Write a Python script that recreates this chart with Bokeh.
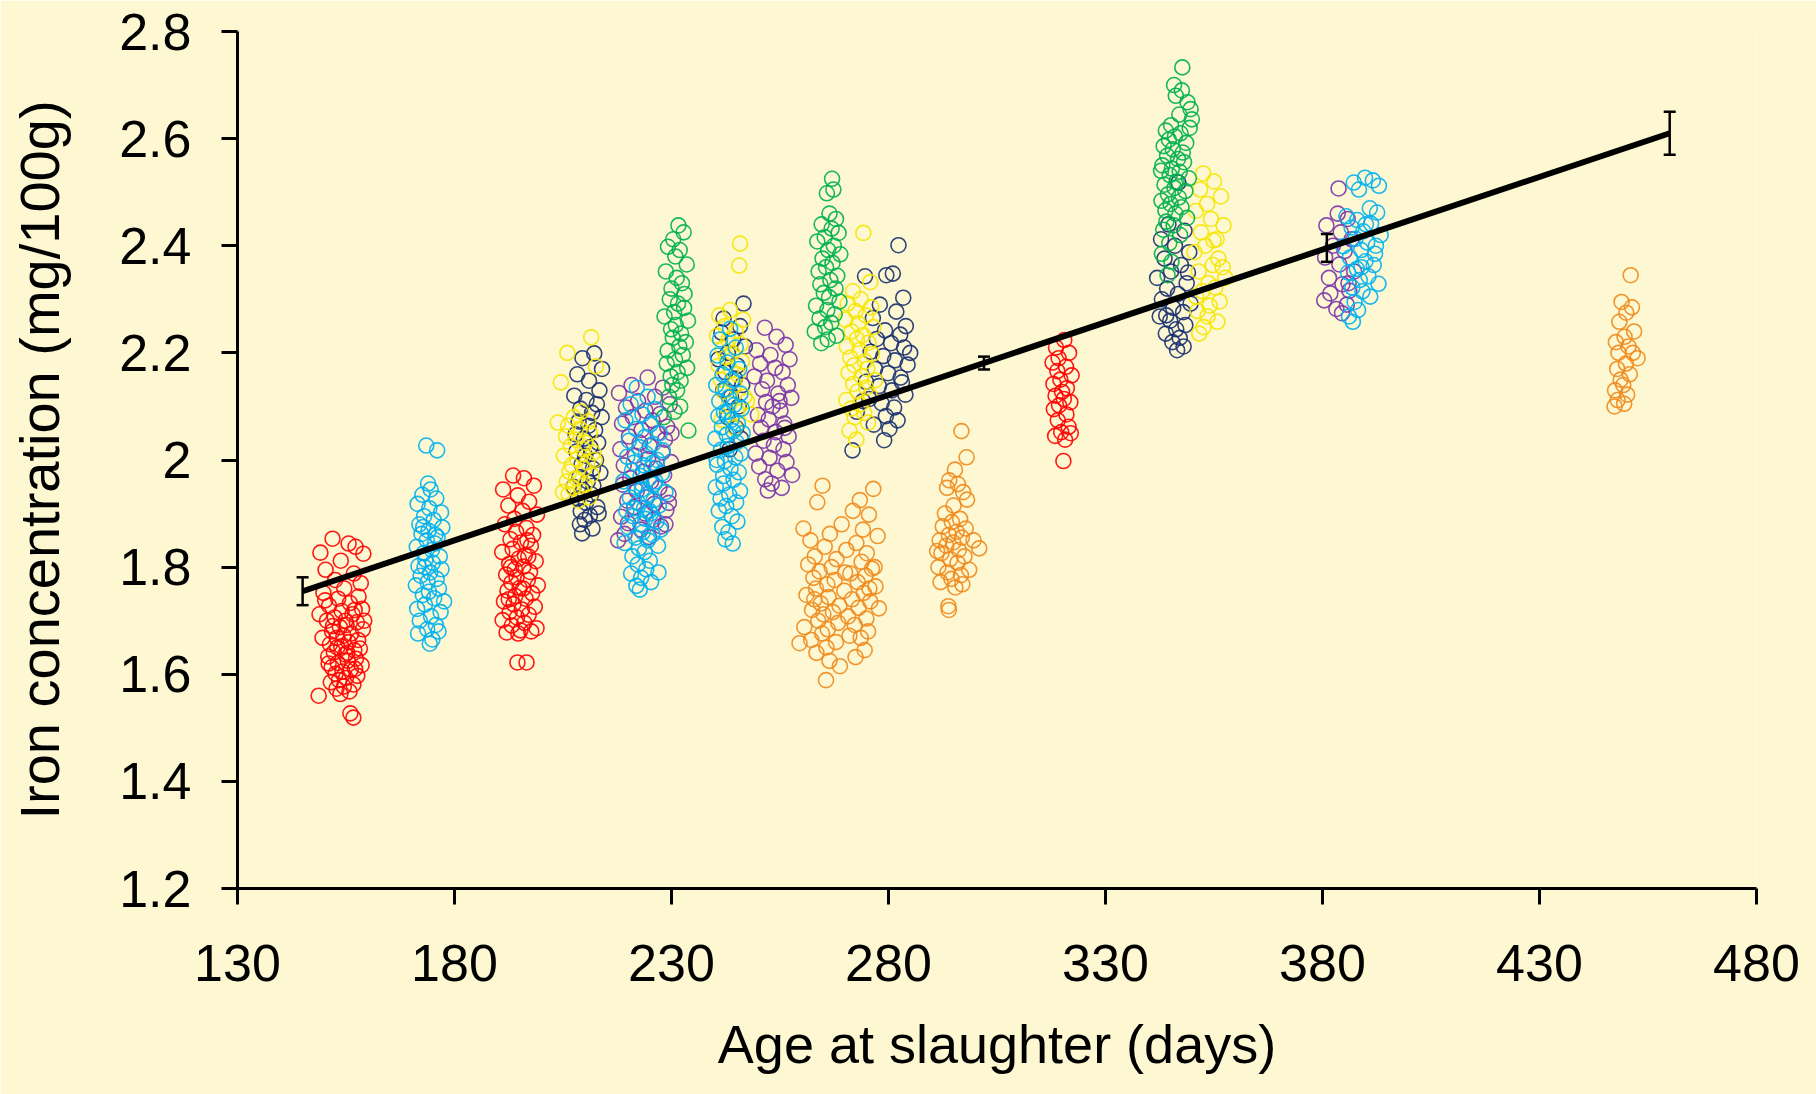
from bokeh.plotting import figure
from bokeh.models import Range1d, FixedTicker
from bokeh.embed import file_html
from bokeh.resources import INLINE

# ---------------- data ----------------
X_TICKS = [130, 180, 230, 280, 330, 380, 430, 480]
Y_TICKS = [1.2, 1.4, 1.6, 1.8, 2.0, 2.2, 2.4, 2.6, 2.8]
Y_TICK_LABELS = ["1.2", "1.4", "1.6", "1.8", "2", "2.2", "2.4", "2.6", "2.8"]
X_TITLE = "Age at slaughter (days)"
Y_TITLE = "Iron concentration (mg/100g)"

# regression line and its error bars (mean +/- se)
LINE_X = [145, 460]
LINE_Y = [1.755, 2.610]
ERR_X = [145, 302, 381, 460]
ERR_MEAN = [1.755, 2.181, 2.396, 2.610]
ERR_SE = [0.026, 0.012, 0.026, 0.040]

# (age in days, iron mg/100g)
RED_PTS = [
    (151.9,1.853),(149.1,1.827),(155.6,1.844),(159.0,1.825),(157.2,1.838),(153.8,1.812),(150.3,1.795),(156.8,1.788),
    (152.5,1.776),(158.4,1.770),(154.6,1.760),(149.8,1.752),(157.9,1.745),(153.2,1.741),(155.9,1.733),(151.1,1.728),
    (158.7,1.722),(154.0,1.718),(156.5,1.712),(152.4,1.706),(150.6,1.700),(157.5,1.697),(155.1,1.692),(153.6,1.688),
    (158.9,1.684),(151.8,1.680),(156.2,1.676),(154.4,1.672),(152.9,1.668),(157.8,1.664),(155.6,1.660),(151.3,1.656),
    (153.9,1.652),(158.2,1.648),(156.9,1.645),(152.2,1.641),(154.8,1.637),(150.9,1.633),(157.3,1.629),(155.4,1.625),
    (153.1,1.621),(158.6,1.617),(151.7,1.613),(156.1,1.609),(154.2,1.605),(152.6,1.601),(157.6,1.597),(155.0,1.593),
    (153.4,1.589),(151.5,1.585),(156.7,1.581),(154.5,1.577),(152.8,1.573),(155.8,1.568),(148.7,1.560),(153.7,1.563),
    (156.0,1.527),(156.7,1.519),(150.2,1.738),(152.0,1.690),(154.9,1.700),(157.0,1.720),(153.0,1.650),(155.3,1.640),
    (151.0,1.620),(157.1,1.610),(149.6,1.668),(159.2,1.700),(148.9,1.712),
    (193.5,1.971),(196.0,1.966),(191.2,1.945),(198.3,1.952),(194.6,1.934),(197.2,1.922),(192.4,1.915),(195.7,1.905),
    (199.0,1.898),(193.8,1.890),(191.6,1.880),(196.6,1.873),(194.2,1.866),(198.1,1.860),(192.9,1.852),(195.3,1.846),
    (197.6,1.840),(193.4,1.834),(191.0,1.828),(196.2,1.822),(194.8,1.816),(198.7,1.811),(192.6,1.806),(195.9,1.801),
    (193.9,1.796),(197.4,1.791),(191.9,1.786),(194.3,1.781),(196.9,1.776),(193.1,1.771),(199.2,1.766),(195.0,1.761),
    (192.2,1.756),(197.9,1.751),(194.0,1.746),(196.4,1.741),(191.4,1.736),(193.6,1.731),(198.5,1.726),(195.5,1.721),
    (192.7,1.716),(197.1,1.711),(194.4,1.706),(191.1,1.701),(196.1,1.696),(193.2,1.691),(198.9,1.686),(195.2,1.682),
    (192.0,1.678),(194.7,1.676),(197.7,1.680),(194.5,1.622),(196.6,1.622),(193.0,1.800),(195.8,1.760),(197.0,1.820),
    (192.5,1.740),(196.8,1.850),
    (320.5,2.224),(318.6,2.210),(321.6,2.200),(319.2,2.190),(317.8,2.182),(320.9,2.174),(318.9,2.166),(322.2,2.158),
    (319.6,2.150),(318.0,2.142),(321.1,2.134),(320.0,2.127),(318.5,2.120),(320.4,2.114),(321.9,2.108),(319.3,2.102),
    (318.1,2.095),(321.0,2.085),(319.0,2.074),(321.5,2.062),(319.8,2.052),(318.4,2.045),(320.7,2.038),(322.0,2.050),
    (320.3,1.998),
]

BLUE_PTS = [
    (173.5,2.027),(176.0,2.018),(173.9,1.956),(174.5,1.945),(172.6,1.935),(175.8,1.928),(171.5,1.918),(174.2,1.910),
    (176.9,1.902),(173.0,1.895),(175.2,1.888),(171.9,1.880),(177.2,1.874),(174.0,1.868),(172.4,1.862),(176.1,1.856),
    (173.6,1.850),(175.5,1.844),(171.3,1.838),(174.8,1.832),(172.9,1.826),(176.6,1.820),(173.3,1.814),(175.0,1.808),
    (171.7,1.802),(177.0,1.796),(174.4,1.790),(172.2,1.784),(175.9,1.778),(173.8,1.772),(171.1,1.766),(176.4,1.760),
    (174.1,1.754),(172.7,1.748),(175.3,1.742),(177.6,1.736),(173.2,1.730),(171.4,1.722),(176.8,1.716),(174.6,1.708),
    (172.0,1.700),(175.7,1.692),(173.7,1.684),(171.6,1.676),(176.3,1.680),(174.9,1.665),(174.3,1.657),(172.8,1.875),
    (175.6,1.860),(173.1,1.800),
    (222.0,2.135),(224.5,2.118),(220.6,2.104),(226.2,2.095),(223.3,2.085),(219.4,2.074),(225.1,2.066),(221.8,2.058),
    (227.3,2.050),(223.9,2.043),(220.2,2.036),(225.8,2.030),(222.6,2.024),(228.0,2.018),(224.1,2.012),(219.8,2.006),
    (226.7,2.000),(221.3,1.995),(223.6,1.990),(225.4,1.985),(220.9,1.980),(227.8,1.975),(222.9,1.970),(224.8,1.965),
    (218.9,1.960),(226.0,1.955),(221.5,1.950),(223.2,1.945),(228.6,1.940),(224.4,1.935),(220.4,1.930),(225.9,1.925),
    (222.3,1.920),(227.1,1.915),(223.7,1.910),(219.6,1.905),(225.2,1.900),(221.1,1.895),(224.0,1.890),(226.5,1.885),
    (222.8,1.880),(220.0,1.875),(227.5,1.870),(223.4,1.865),(225.6,1.860),(221.7,1.855),(224.6,1.850),(219.2,1.845),
    (226.9,1.840),(222.5,1.835),(223.8,1.828),(221.0,1.820),(225.0,1.812),(222.2,1.805),(224.2,1.796),(220.7,1.788),
    (223.0,1.780),(225.3,1.772),(221.9,1.765),(222.7,1.758),(227.0,1.790),(226.3,1.960),(224.9,1.905),(221.4,1.910),
    (223.1,1.955),(225.7,1.995),
    (243.5,2.245),(241.2,2.225),(244.8,2.210),(240.6,2.195),(242.9,2.182),(245.6,2.170),(241.8,2.160),(244.0,2.150),
    (240.3,2.140),(242.5,2.132),(245.9,2.124),(243.2,2.117),(241.0,2.110),(244.5,2.103),(246.2,2.096),(242.1,2.089),
    (240.8,2.082),(243.8,2.075),(245.3,2.068),(241.6,2.061),(244.2,2.054),(242.7,2.047),(240.1,2.040),(245.0,2.033),
    (243.0,2.026),(241.4,2.019),(246.0,2.012),(244.7,2.005),(242.3,1.998),(240.5,1.991),(243.6,1.984),(245.5,1.977),
    (241.9,1.970),(244.3,1.963),(242.0,1.956),(240.2,1.949),(245.8,1.942),(243.3,1.935),(241.3,1.928),(244.9,1.921),
    (242.6,1.914),(240.9,1.905),(243.9,1.895),(245.2,1.885),(241.7,1.875),(243.1,1.865),(242.4,1.852),(244.1,1.844),
    (240.4,2.000),(246.4,2.050),(242.8,2.090),
    (389.8,2.527),(391.6,2.522),(387.2,2.518),(393.0,2.512),(388.4,2.505),(390.9,2.470),(392.6,2.462),(385.5,2.455),
    (388.0,2.448),(391.2,2.441),(386.7,2.434),(389.4,2.427),(393.4,2.420),(387.6,2.413),(390.3,2.406),(384.8,2.399),
    (388.9,2.392),(392.1,2.385),(386.3,2.378),(389.9,2.371),(391.8,2.364),(387.9,2.357),(385.9,2.350),(390.6,2.343),
    (388.6,2.336),(392.9,2.329),(386.9,2.322),(389.2,2.315),(391.0,2.305),(387.4,2.295),(388.2,2.280),(386.1,2.268),
    (387.0,2.258),(390.0,2.440),(392.3,2.400),(389.0,2.360),
]

NAVY_PTS = [
    (212.2,2.199),(209.5,2.190),(214.0,2.170),(208.3,2.160),(211.0,2.148),(213.4,2.130),(207.6,2.120),(210.4,2.112),
    (212.8,2.104),(209.0,2.096),(211.7,2.088),(213.9,2.080),(208.6,2.072),(210.9,2.064),(212.4,2.056),(207.9,2.048),
    (209.8,2.040),(213.1,2.032),(211.3,2.024),(208.1,2.016),(210.1,2.008),(212.6,2.000),(209.3,1.992),(211.9,1.984),
    (213.6,1.976),(208.8,1.968),(210.7,1.960),(212.0,1.952),(209.6,1.944),(211.5,1.936),(208.4,1.928),(210.3,1.920),
    (212.9,1.912),(209.1,1.904),(211.2,1.896),(210.0,1.888),(208.9,1.880),(211.8,1.872),(209.4,1.863),(213.2,1.900),
    (207.4,1.950),
    (246.6,2.292),(242.0,2.264),(245.8,2.250),(241.5,2.238),(244.2,2.225),(246.9,2.212),(243.0,2.200),(240.8,2.188),
    (245.2,2.176),(242.4,2.164),(244.6,2.152),(246.3,2.140),(241.9,2.130),(243.7,2.118),(245.5,2.100),(242.9,2.080),
    (244.9,2.060),(246.0,2.040),(243.4,2.020),
    (282.3,2.401),(281.0,2.348),(279.5,2.345),(274.6,2.343),(283.4,2.303),(281.8,2.277),(278.0,2.290),(276.4,2.265),
    (284.0,2.250),(279.2,2.242),(282.7,2.234),(277.3,2.226),(280.6,2.218),(283.6,2.210),(275.9,2.202),(278.8,2.194),
    (281.5,2.186),(284.4,2.178),(276.9,2.170),(279.9,2.162),(282.8,2.154),(274.8,2.146),(277.8,2.138),(280.8,2.130),
    (283.9,2.122),(275.6,2.114),(278.4,2.106),(281.3,2.098),(272.7,2.090),(279.4,2.082),(282.1,2.074),(276.6,2.066),
    (280.2,2.058),(279.0,2.037),(271.7,2.018),(274.1,2.110),(283.1,2.145),(285.0,2.200),
    (346.8,2.518),(344.5,2.440),(348.2,2.428),(342.8,2.412),(346.0,2.400),(349.3,2.388),(343.6,2.376),(347.4,2.364),
    (345.1,2.352),(341.9,2.340),(348.7,2.330),(344.2,2.320),(346.7,2.310),(343.0,2.300),(349.6,2.292),(345.6,2.284),
    (347.9,2.276),(342.5,2.268),(344.9,2.260),(348.4,2.252),(346.3,2.244),(343.9,2.236),(347.1,2.228),(345.4,2.220),
    (348.0,2.212),(346.5,2.205),(344.0,2.270),(349.0,2.350),
]

YELLOW_PTS = [
    (211.5,2.229),(204.5,2.145),(206.0,2.200),(212.6,2.175),(203.8,2.070),(209.2,2.090),(207.5,2.080),(210.8,2.072),
    (206.2,2.064),(208.9,2.058),(211.2,2.050),(205.7,2.044),(207.9,2.038),(210.2,2.032),(206.8,2.026),(209.6,2.020),
    (212.0,2.014),(205.2,2.008),(208.3,2.002),(210.6,1.996),(207.0,1.990),(209.9,1.984),(206.5,1.978),(211.6,1.972),
    (208.0,1.966),(205.9,1.960),(210.0,1.954),(207.3,1.948),(209.2,1.942),(206.3,1.936),(211.0,1.930),(208.6,1.924),
    (205.0,1.940),(212.3,2.000),
    (245.8,2.404),(245.6,2.363),(243.5,2.280),(241.0,2.270),(246.5,2.262),(242.3,2.250),(244.8,2.240),(240.5,2.232),
    (243.1,2.224),(245.9,2.216),(241.8,2.208),(244.0,2.200),(242.6,2.192),(246.2,2.184),(240.9,2.176),(243.7,2.168),
    (245.2,2.160),(241.4,2.150),(244.4,2.140),(242.0,2.128),(246.8,2.118),(243.3,2.105),(245.0,2.090),(241.6,2.075),
    (244.6,2.060),(247.4,2.110),(248.4,2.085),
    (274.2,2.424),(275.8,2.332),(271.8,2.315),(273.6,2.300),(270.6,2.292),(276.0,2.285),(272.4,2.278),(274.8,2.270),
    (270.1,2.262),(273.0,2.255),(276.5,2.248),(271.5,2.240),(274.1,2.233),(272.7,2.226),(275.4,2.219),(270.4,2.212),
    (273.3,2.205),(276.2,2.198),(271.2,2.191),(274.6,2.184),(272.1,2.177),(275.1,2.170),(270.8,2.163),(273.8,2.156),
    (276.9,2.149),(271.9,2.142),(274.9,2.135),(272.9,2.128),(275.7,2.120),(270.3,2.112),(273.5,2.104),(271.4,2.096),
    (274.4,2.088),(272.2,2.080),(275.3,2.070),(271.0,2.055),(272.6,2.038),
    (352.5,2.535),(355.0,2.520),(351.8,2.505),(356.6,2.492),(353.4,2.478),(350.8,2.465),(354.3,2.450),(357.2,2.438),
    (352.0,2.425),(355.6,2.412),(353.0,2.400),(350.5,2.388),(356.0,2.376),(354.7,2.364),(351.5,2.352),(357.6,2.340),
    (353.7,2.330),(355.3,2.322),(352.3,2.315),(350.9,2.305),(356.3,2.296),(354.0,2.288),(351.2,2.278),(353.5,2.268),
    (355.8,2.258),(352.6,2.248),(351.6,2.236),(357.0,2.360),(354.9,2.410),
]

PURPLE_PTS = [
    (224.5,2.154),(220.8,2.140),(228.0,2.135),(217.9,2.125),(226.2,2.118),(222.3,2.110),(229.6,2.104),(219.5,2.098),
    (224.0,2.092),(227.4,2.086),(221.1,2.080),(225.6,2.074),(218.6,2.068),(229.0,2.062),(223.1,2.056),(226.8,2.050),
    (220.2,2.044),(228.5,2.038),(222.7,2.032),(225.0,2.026),(218.2,2.020),(227.9,2.014),(221.6,2.008),(224.6,2.002),
    (229.9,1.996),(219.0,1.990),(226.4,1.984),(223.5,1.978),(228.3,1.972),(220.5,1.966),(225.3,1.960),(218.8,1.954),
    (227.2,1.948),(222.0,1.942),(229.3,1.936),(224.3,1.930),(219.8,1.924),(226.0,1.918),(221.4,1.912),(228.8,1.906),
    (223.9,1.900),(218.4,1.894),(225.8,1.888),(220.0,1.882),(227.6,1.876),(222.9,1.870),(219.2,1.862),(224.8,1.856),
    (217.7,1.850),(229.4,1.920),(228.6,1.880),(230.0,2.050),
    (251.5,2.247),(254.2,2.230),(256.3,2.215),(249.6,2.205),(252.8,2.196),(257.2,2.188),(250.4,2.180),(253.9,2.172),
    (255.6,2.164),(249.1,2.156),(252.0,2.148),(256.8,2.140),(250.9,2.132),(254.6,2.124),(257.6,2.116),(251.8,2.108),
    (253.3,2.100),(255.1,2.092),(249.9,2.084),(252.4,2.076),(256.0,2.068),(250.6,2.060),(254.0,2.052),(257.0,2.044),
    (251.2,2.036),(253.6,2.028),(255.8,2.020),(249.4,2.012),(252.6,2.004),(256.5,1.996),(250.2,1.988),(254.4,1.980),
    (257.8,1.972),(251.6,1.964),(253.1,1.956),(255.4,1.948),(252.2,1.943),(256.1,2.060),(254.9,2.110),
    (383.7,2.507),(383.5,2.460),(385.8,2.450),(380.9,2.438),(384.2,2.425),(386.7,2.412),(382.4,2.400),(385.1,2.390),
    (380.6,2.378),(383.9,2.365),(387.3,2.352),(381.5,2.340),(384.6,2.328),(386.2,2.316),(381.8,2.311),(380.4,2.298),
    (385.6,2.290),(383.2,2.282),(384.5,2.274),(386.0,2.330),
]

GREEN_PTS = [
    (231.6,2.438),(232.8,2.425),(230.4,2.412),(229.2,2.398),(231.9,2.392),(230.9,2.380),(233.5,2.365),(228.7,2.352),
    (231.2,2.340),(232.4,2.330),(230.0,2.320),(233.0,2.310),(229.6,2.300),(231.5,2.292),(232.9,2.284),(230.6,2.276),
    (228.4,2.268),(233.8,2.260),(231.0,2.252),(229.9,2.244),(232.2,2.236),(230.3,2.228),(233.3,2.220),(231.8,2.212),
    (229.1,2.204),(232.6,2.196),(230.8,2.188),(228.9,2.180),(233.6,2.172),(231.4,2.164),(229.8,2.156),(232.1,2.148),
    (230.2,2.140),(231.3,2.130),(229.4,2.118),(232.0,2.100),(230.7,2.090),(233.9,2.055),(228.2,2.080),
    (267.0,2.525),(267.3,2.505),(265.8,2.498),(266.4,2.460),(267.9,2.450),(264.6,2.440),(266.9,2.432),(268.5,2.424),
    (265.3,2.416),(263.6,2.408),(267.4,2.400),(266.1,2.392),(268.9,2.384),(264.8,2.376),(267.1,2.368),(265.6,2.360),
    (263.9,2.352),(268.2,2.344),(266.6,2.336),(264.3,2.328),(267.8,2.320),(265.1,2.312),(266.3,2.304),(268.7,2.296),
    (263.3,2.288),(265.9,2.280),(267.6,2.272),(264.1,2.264),(266.8,2.256),(265.4,2.248),(263.0,2.240),(268.0,2.232),
    (266.0,2.225),(264.5,2.218),
    (347.7,2.733),(345.8,2.700),(347.6,2.690),(346.2,2.680),(348.9,2.668),(349.6,2.655),(347.0,2.645),(349.9,2.636),
    (345.1,2.625),(343.9,2.615),(347.3,2.610),(346.0,2.604),(344.6,2.598),(348.6,2.592),(343.4,2.586),(345.5,2.580),
    (347.8,2.574),(344.2,2.568),(346.7,2.562),(348.1,2.556),(343.1,2.550),(345.3,2.544),(347.1,2.538),(344.8,2.532),
    (349.2,2.526),(346.4,2.520),(343.6,2.514),(345.9,2.508),(348.4,2.502),(344.4,2.496),(346.9,2.490),(342.9,2.484),
    (345.0,2.478),(347.5,2.472),(343.8,2.466),(346.1,2.460),(348.8,2.452),(344.0,2.445),(345.7,2.438),(343.3,2.430),
    (347.2,2.420),(344.7,2.405),(343.0,2.385),(345.2,2.370),(344.3,2.345),(349.4,2.620),(342.8,2.540),
]

ORANGE_PTS = [
    (264.8,1.952),(276.5,1.946),(273.4,1.925),(263.6,1.921),(271.8,1.905),(275.5,1.898),(260.4,1.872),(269.2,1.880),
    (274.1,1.870),(266.5,1.862),(277.5,1.858),(262.0,1.850),(272.6,1.845),(265.3,1.838),(270.3,1.832),(275.0,1.826),
    (263.0,1.820),(268.0,1.815),(273.8,1.810),(261.5,1.805),(266.9,1.800),(276.2,1.797),(264.1,1.792),(271.2,1.788),
    (274.7,1.784),(262.7,1.780),(267.6,1.776),(272.9,1.772),(265.9,1.768),(277.0,1.764),(263.3,1.760),(269.8,1.756),
    (274.3,1.752),(261.1,1.748),(266.2,1.744),(271.6,1.740),(275.8,1.736),(264.4,1.732),(268.7,1.728),(273.1,1.724),
    (262.4,1.720),(267.2,1.716),(277.8,1.723),(265.0,1.712),(270.7,1.708),(274.9,1.704),(263.8,1.700),(268.4,1.696),
    (272.2,1.692),(260.6,1.688),(266.0,1.684),(275.3,1.680),(264.7,1.676),(271.0,1.672),(273.6,1.668),(262.2,1.664),
    (267.9,1.660),(259.5,1.658),(265.7,1.650),(274.5,1.645),(263.4,1.640),(272.4,1.632),(268.8,1.615),(266.4,1.625),
    (265.6,1.589),(275.6,1.760),(276.8,1.800),(262.9,1.740),(270.0,1.790),
    (296.8,2.054),(298.0,2.005),(295.3,1.982),(294.0,1.962),(296.0,1.955),(293.5,1.948),(297.2,1.940),(298.1,1.926),
    (295.0,1.915),(293.0,1.900),(296.5,1.890),(294.6,1.884),(292.5,1.876),(297.8,1.872),(295.7,1.866),(293.9,1.860),
    (296.9,1.855),(291.8,1.850),(294.9,1.846),(300.9,1.835),(293.3,1.840),(296.2,1.832),(292.2,1.826),(297.5,1.820),
    (294.2,1.815),(295.9,1.808),(291.5,1.800),(298.6,1.795),(293.6,1.790),(296.7,1.785),(294.5,1.778),(292.0,1.772),
    (297.0,1.768),(295.4,1.762),(293.8,1.727),(293.9,1.720),(299.6,1.850),(291.2,1.830),
    (451.0,2.345),(448.9,2.295),(451.3,2.285),(450.0,2.275),(448.4,2.258),(451.8,2.240),(449.6,2.230),(447.6,2.220),
    (450.5,2.212),(448.2,2.200),(452.6,2.190),(449.9,2.180),(447.9,2.170),(450.8,2.160),(448.7,2.150),(449.3,2.140),
    (447.4,2.130),(450.2,2.122),(448.0,2.112),(449.5,2.105),(447.3,2.100),(451.5,2.200),
]

SERIES = [
    ("orange", "#F08A1C", ORANGE_PTS),
    ("red", "#FF0000", RED_PTS),
    ("navy", "#1A3070", NAVY_PTS),
    ("purple", "#7A35A8", PURPLE_PTS),
    ("yellow", "#F5E600", YELLOW_PTS),
    ("green", "#00B050", GREEN_PTS),
    ("lightblue", "#00B0F0", BLUE_PTS),
]

BG = "#FDF8D2"
FONT = "Liberation Sans"

# ---------------- figure ----------------
p = figure(width=1816, height=1094,
           x_range=Range1d(130, 480), y_range=Range1d(1.2, 2.8),
           output_backend="svg", toolbar_location=None,
           min_border_left=237, min_border_right=60,
           min_border_top=31, min_border_bottom=206)
p.background_fill_color = BG
p.border_fill_color = BG
p.outline_line_color = None
p.xgrid.visible = False
p.ygrid.visible = False

for name, color, pts in SERIES:
    xs = [a for a, b in pts]
    ys = [b for a, b in pts]
    p.scatter(xs, ys, marker="circle", size=15, fill_color=None,
              line_color=color, line_width=1.6, line_alpha=0.9)

# regression line
p.line(LINE_X, LINE_Y, line_color="black", line_width=6)

# error bars
lo = [m - s for m, s in zip(ERR_MEAN, ERR_SE)]
hi = [m + s for m, s in zip(ERR_MEAN, ERR_SE)]
p.segment(x0=ERR_X, y0=lo, x1=ERR_X, y1=hi, line_color="black", line_width=2.5)
p.scatter(ERR_X, lo, marker="dash", size=12, line_color="black", line_width=2.5)
p.scatter(ERR_X, hi, marker="dash", size=12, line_color="black", line_width=2.5)

# axes
for ax in (p.xaxis[0], p.yaxis[0]):
    ax.axis_line_width = 3
    ax.axis_line_color = "black"
    ax.major_tick_line_width = 3
    ax.major_tick_line_color = "black"
    ax.major_tick_in = 0
    ax.major_tick_out = 16
    ax.minor_tick_line_color = None
    ax.major_label_text_font = FONT
    ax.major_label_text_font_size = "52px"
    ax.major_label_text_color = "black"
    ax.axis_label_text_font = FONT
    ax.axis_label_text_font_style = "normal"
    ax.axis_label_text_color = "black"

p.xaxis.ticker = FixedTicker(ticks=X_TICKS)
p.yaxis.ticker = FixedTicker(ticks=Y_TICKS)
p.yaxis.major_label_overrides = {t: lab for t, lab in zip(Y_TICKS, Y_TICK_LABELS)}
p.yaxis.major_label_standoff = 30
p.xaxis.major_label_standoff = 40

p.xaxis.axis_label = X_TITLE
p.xaxis.axis_label_text_font_size = "54px"
p.xaxis.axis_label_standoff = 30
p.yaxis.axis_label = Y_TITLE
p.yaxis.axis_label_text_font_size = "56px"
p.yaxis.axis_label_standoff = 45

open("out.html", "w").write(file_html(p, INLINE))
